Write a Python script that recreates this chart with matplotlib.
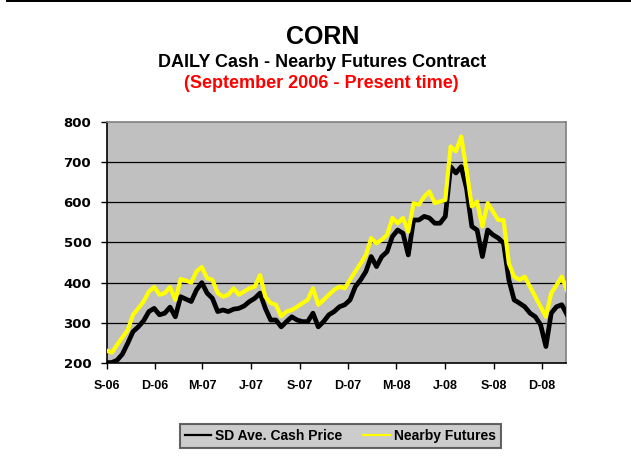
# corn_cash_futures.py

import numpy as np
import pandas as pd
import matplotlib
matplotlib.use('Agg')
import matplotlib.pyplot as plt

plt.rcParams['font.family'] = ['Liberation Sans', 'DejaVu Sans']

# 10일 간격으로 읽은 값 (2006-09-01 부터)
start_date = '2006-09-01'

cash = [201, 201, 207, 222, 249, 278, 290, 305, 328, 336,
        320, 324, 339, 315, 365, 359, 353, 382, 400, 374,
        361, 328, 332, 328, 334, 336, 342, 353, 361, 374,
        336, 307, 307, 290, 303, 315, 307, 303, 303, 324,
        290, 303, 320, 328, 340, 345, 357, 390, 407, 428,
        465, 440, 465, 477, 515, 531, 523, 469, 556, 556,
        565, 561, 548, 548, 565, 689, 673, 689, 635, 540,
        531, 465, 531, 519, 511, 498, 407, 357, 349, 340,
        324, 315, 295, 241, 324, 340, 345, 320]

futures = [231, 226, 245, 264, 282, 320, 336, 353, 378, 389,
           370, 374, 389, 357, 409, 405, 400, 428, 439, 411,
           407, 374, 365, 370, 386, 370, 378, 386, 390, 419,
           365, 349, 345, 316, 328, 332, 340, 349, 357, 386,
           345, 357, 370, 382, 390, 386, 407, 428, 448, 469,
           511, 498, 507, 519, 561, 548, 561, 527, 598, 594,
           614, 627, 598, 602, 606, 739, 727, 764, 681, 590,
           602, 540, 598, 577, 556, 556, 448, 415, 407, 415,
           390, 365, 340, 315, 374, 394, 415, 380]

tick_dates = ['2006-09-01', '2006-12-01', '2007-03-01', '2007-06-01', '2007-09-01',
              '2007-12-01', '2008-03-01', '2008-06-01', '2008-09-01', '2008-12-01']
tick_labels = ['S-06', 'D-06', 'M-07', 'J-07', 'S-07', 'D-07', 'M-08', 'J-08', 'S-08', 'D-08']
y_ticks = [200, 300, 400, 500, 600, 700, 800]

dates = pd.date_range(start_date, periods=len(cash), freq='10D')

fig = plt.figure(figsize=(6.31, 4.65), dpi=100)
fig.patch.set_facecolor('white')

# 맨 위 검은 줄
fig.patches.append(plt.Rectangle((0.01, 0.995), 0.99, 0.005, transform=fig.transFigure,
                                 facecolor='black', edgecolor='none'))

# 제목
fig.text(0.511, 0.920, 'CORN', ha='center', va='center', fontsize=18, fontweight='bold')
fig.text(0.511, 0.865, 'DAILY Cash - Nearby Futures Contract', ha='center', va='center',
         fontsize=13, fontweight='bold')
fig.text(0.509, 0.821, '(September 2006 - Present time)', ha='center', va='center',
         fontsize=13, fontweight='bold', color='#ff0000')

ax = fig.add_axes([0.1688, 0.2194, 0.7274, 0.5182])
ax.set_facecolor('#c0c0c0')

ax.plot(dates, cash, color='black', lw=3.4, label='SD Ave. Cash Price', zorder=3)
ax.plot(dates, futures, color='#ffff00', lw=3.0, label='Nearby Futures', zorder=4)

ax.set_xlim(pd.Timestamp('2006-09-01'), pd.Timestamp('2009-01-15'))
ax.set_ylim(200, 800)
ax.set_yticks(y_ticks)
ax.set_xticks(pd.to_datetime(tick_dates))
ax.set_xticklabels(tick_labels)

for y in y_ticks[1:-1]:
    ax.axhline(y, color='black', lw=0.9, zorder=1)

for side in ['top', 'right']:
    ax.spines[side].set_color('#808080')
    ax.spines[side].set_linewidth(1.2)
for side in ['left', 'bottom']:
    ax.spines[side].set_color('black')
    ax.spines[side].set_linewidth(1.2)

ax.tick_params(axis='both', direction='out', length=4, width=1, color='black')
ax.tick_params(axis='x', pad=8)
ax.tick_params(axis='y', pad=7)
for lbl in ax.get_xticklabels():
    lbl.set_fontweight('bold')
    lbl.set_fontsize(9)
for lbl in ax.get_yticklabels():
    lbl.set_family('DejaVu Sans')
    lbl.set_fontweight('bold')
    lbl.set_fontsize(9.5)

leg = fig.legend(loc='center', bbox_to_anchor=(0.539, 0.062), ncol=2, frameon=True,
                 fancybox=False, shadow=False, handlelength=1.9, handletextpad=0.3,
                 columnspacing=1.5, borderpad=0.35, prop={'weight': 'bold', 'size': 10})
leg.get_frame().set_facecolor('#c0c0c0')
leg.get_frame().set_edgecolor('#404040')
leg.get_frame().set_linewidth(1.5)
for line in leg.get_lines():
    line.set_linewidth(1.6)

plt.savefig('out.png', dpi=100)
